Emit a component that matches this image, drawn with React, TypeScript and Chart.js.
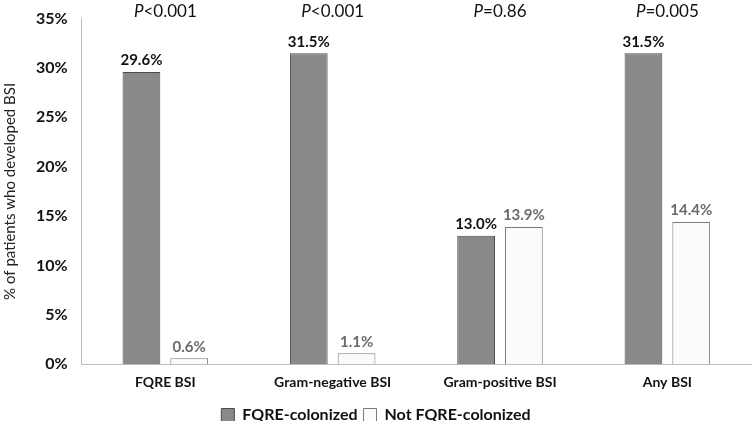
import React, { useEffect, useRef } from "react";
import { Chart, registerables } from "chart.js";

Chart.register(...registerables);

const categories = ["FQRE BSI", "Gram-negative BSI", "Gram-positive BSI", "Any BSI"];
const colonized = [29.6, 31.5, 13.0, 31.5];
const notColonized = [0.6, 1.1, 13.9, 14.4];
const pLabels = ["<0.001", "<0.001", "=0.86", "=0.005"];
const yTicks = [0, 5, 10, 15, 20, 25, 30, 35];

const FONT = "Lato, 'Open Sans', sans-serif";

const overlayPlugin = {
  id: "overlay",
  afterDatasetsDraw(chart: any) {
    const ctx = chart.ctx;
    const x = chart.scales.x;
    const y = chart.scales.y;
    ctx.save();
    chart.data.datasets.forEach((ds: any, di: number) => {
      const meta = chart.getDatasetMeta(di);
      meta.data.forEach((bar: any, i: number) => {
        ctx.font = `bold 15px ${FONT}`;
        ctx.fillStyle = di === 0 ? "#111" : "#6b6b6b";
        ctx.textAlign = "center";
        ctx.textBaseline = "bottom";
        ctx.fillText(ds.data[i].toFixed(1) + "%", bar.x, bar.y - 4);
      });
    });
    categories.forEach((_c, i) => {
      const cx = x.getPixelForValue(i);
      const ty = y.top - 7;
      ctx.textBaseline = "middle";
      ctx.font = `italic 17px ${FONT}`;
      const w1 = ctx.measureText("P").width;
      ctx.font = `17px ${FONT}`;
      const w2 = ctx.measureText(pLabels[i]).width;
      const start = cx - (w1 + w2) / 2;
      ctx.fillStyle = "#111";
      ctx.textAlign = "left";
      ctx.font = `italic 17px ${FONT}`;
      ctx.fillText("P", start, ty);
      ctx.font = `17px ${FONT}`;
      ctx.fillText(pLabels[i], start + w1, ty);
    });
    ctx.restore();
  },
};

export default function App() {
  const ref = useRef<HTMLCanvasElement>(null);
  useEffect(() => {
    document.body.style.margin = "0";
    const chart = new Chart(ref.current!, {
      type: "bar",
      data: {
        labels: categories,
        datasets: [
          {
            label: "FQRE-colonized",
            data: colonized,
            backgroundColor: "#898989",
            borderColor: "#4a4a4a",
            borderWidth: 1,
            categoryPercentage: 0.571,
            barPercentage: 0.79,
          },
          {
            label: "Not FQRE-colonized",
            data: notColonized,
            backgroundColor: "#fbfbfb",
            borderColor: "#7a7a7a",
            borderWidth: 1,
            categoryPercentage: 0.571,
            barPercentage: 0.79,
          },
        ],
      },
      options: {
        animation: false,
        responsive: false,
        maintainAspectRatio: false,
        layout: { padding: { top: 0, right: 4, left: 1, bottom: -7 } },
        plugins: {
          legend: {
            position: "bottom",
            labels: {
              boxWidth: 13,
              boxHeight: 13,
              color: "#111",
              font: { family: FONT, size: 16, weight: "bold" },
              padding: 6,
            },
          },
          tooltip: { enabled: false },
        },
        scales: {
          x: {
            grid: { display: false, drawTicks: false },
            border: { color: "#bdbdbd", width: 1 },
            ticks: {
              color: "#111",
              font: { family: FONT, size: 14, weight: "bold" },
              padding: 10,
            },
          },
          y: {
            min: 0,
            max: 35,
            afterBuildTicks: (axis: any) => {
              axis.ticks = yTicks.map((v) => ({ value: v }));
            },
            grid: { display: false, drawTicks: false },
            border: { color: "#bdbdbd", width: 1 },
            ticks: {
              color: "#111",
              font: { family: FONT, size: 16, weight: "bold" },
              padding: 14,
              callback: (v: any) => v + "%",
            },
            title: {
              display: true,
              text: "% of patients who developed BSI",
              color: "#222",
              font: { family: FONT, size: 15 },
              padding: { top: 0, bottom: 3 },
            },
          },
        },
      },
      plugins: [overlayPlugin],
    });
    return () => chart.destroy();
  }, []);
  return (
    <div style={{ width: 755, height: 421, overflow: "hidden", position: "relative" }}>
      <canvas
        ref={ref}
        width={755}
        height={431}
        style={{ display: "block", position: "absolute", top: -5, left: 0 }}
      />
    </div>
  );
}
